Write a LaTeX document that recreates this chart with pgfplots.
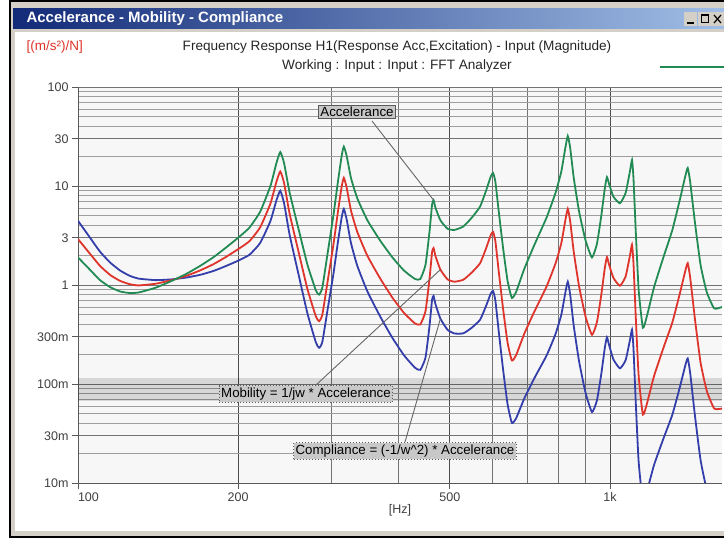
\documentclass[border=0pt]{standalone}
\usepackage{pgfplots}
\pgfplotsset{compat=1.18}
\usepackage{pgfplotstable}
\usepackage{fontspec}
\setmainfont{Liberation Sans}

\definecolor{accgreen}{RGB}{34,139,84}
\definecolor{mobred}{RGB}{222,52,44}
\definecolor{compblue}{RGB}{52,62,170}
\definecolor{winframe}{RGB}{212,208,200}
\definecolor{titleL}{RGB}{18,42,120}
\definecolor{titleR}{RGB}{160,190,230}
\definecolor{boxgray}{RGB}{200,200,200}

% f [Hz], accelerance, mobility, compliance
\pgfplotstableread{
f     acc   mob     comp
100   1.9   2.91    4.45
105   1.45  2.11    3.08
110   1.12  1.56    2.17
115   0.95  1.26    1.68
120   0.86  1.10    1.40
125   0.83  1.02    1.24
130   0.84  0.99    1.16
140   0.94  1.03    1.12
150   1.1   1.12    1.14
160   1.3   1.24    1.19
170   1.57  1.41    1.27
180   1.92  1.63    1.39
190   2.4   1.93    1.56
200   3.0   2.30    1.76
210   3.8   2.77    2.02
220   5.5   3.83    2.66
230   10    6.65    4.43
236   17    11.0    7.15
240   22    14.0    8.94
244   17    10.7    6.68
250   8.5   5.20    3.18
260   3.6   2.12    1.25
270   1.6   0.907   0.514
280   0.88  0.481   0.263
284   0.8   0.431   0.232
288   0.95  0.505   0.268
295   2.2   1.14    0.592
302   5     2.53    1.28
308   11    5.46    2.71
313   20    9.78    4.78
316   25    12.1    5.86
320   20    9.56    4.57
326   12    5.63    2.64
335   7.5   3.43    1.56
350   4.5   1.97    0.860
370   2.8   1.16    0.479
390   1.9   0.745   0.292
410   1.4   0.522   0.195
430   1.15  0.409   0.146
440   1.15  0.400   0.139
450   1.6   0.544   0.185
458   3.5   1.17    0.391
463   6.5   2.15    0.710
466   7.2   2.36    0.776
470   6.0   1.95    0.636
480   4.5   1.43    0.457
495   3.7   1.14    0.353
510   3.6   1.08    0.324
530   3.9   1.13    0.325
550   4.8   1.34    0.371
570   6.2   1.66    0.446
585   9     2.35    0.616
597   12.5  3.20    0.821
603   13.5  3.43    0.869
609   11    2.76    0.694
618   5.5   1.36    0.337
630   2.3   0.559   0.136
642   1.1   0.262   0.0625
654   0.74  0.173   0.0405
666   0.85  0.195   0.0449
690   1.45  0.321   0.0713
720   2.5   0.531   0.113
760   4.8   0.966   0.194
790   8.5   1.65    0.319
810   14    2.64    0.500
824   24    4.46    0.828
833   32    5.88    1.08
842   24    4.36    0.792
855   12    2.15    0.384
875   5.5   0.962   0.168
900   2.8   0.476   0.0809
925   1.9   0.314   0.0520
945   2.6   0.421   0.0682
963   5     0.795   0.126
978   9.5   1.49    0.233
987   12.3  1.91    0.296
996   10.5  1.61    0.248
1015  7.8   1.18    0.177
1044  6.7   0.982   0.144
1070  8.5   1.22    0.174
1090  14    1.97    0.276
1100  18.3  2.55    0.354
1107  12    1.66    0.229
1118  3.5   0.479   0.0655
1132  0.9   0.122   0.0165
1153  0.37  0.0491  0.00651
1175  0.5   0.0651  0.00848
1210  0.95  0.120   0.0152
1260  1.9   0.231   0.0280
1310  3.6   0.420   0.0491
1355  7.5   0.847   0.0956
1385  12.5  1.38    0.153
1400  15.2  1.66    0.181
1415  11    1.19    0.129
1445  4.2   0.445   0.0471
1480  1.6   0.165   0.0171
1520  0.85  0.0856  0.00861
1570  0.58  0.0565  0.00551
1624  0.6   0.0565  0.00533
}\frf

\begin{document}
\begin{tikzpicture}[x=1pt,y=1pt]
\useasboundingbox (0,0) rectangle (724,538);
% window chrome
\fill[white] (0,0) rectangle (724,538);
\fill[winframe] (11,2) rectangle (724,536);
\shade[left color=titleL, right color=titleR] (13,509) rectangle (724,529);
\fill[white] (15,7) rectangle (724,506);
\draw[black, line width=2] (10,1) rectangle (740,537);
\node[anchor=west, white, font=\fontsize{15}{17}\selectfont\bfseries] at (23,519) {Accelerance - Mobility - Compliance};
% title bar buttons
\foreach \bx in {684,698,711}{\fill[winframe] (\bx,512) rectangle ++(13,14);}
\draw[black, line width=1.6] (687,515) -- (694,515);
\draw[black, line width=1] (701,515) rectangle (708,523);
\draw[black, line width=1.6] (701,522.5) -- (708,522.5);
\draw[black, line width=1.2] (714,515) -- (721,523) (714,523) -- (721,515);
% header
\node[anchor=west, mobred, font=\fontsize{13.5}{15}\selectfont] at (23,491) {[(m/s²)/N]};
\node[font=\fontsize{13.6}{15}\selectfont, black!85] at (397,491) {Frequency Response H1(Response Acc,Excitation) - Input (Magnitude)};
\node[font=\fontsize{13.6}{15}\selectfont, black!85] at (397,472) {Working : Input : Input : FFT Analyzer};
\draw[accgreen, line width=2] (660,471) -- (724,471);

\begin{axis}[
    at={(78pt,55pt)}, anchor=south west,
    scale only axis, width=644pt, height=396pt,
    xmode=log, ymode=log,
    xmin=100, xmax=1624, ymin=0.01, ymax=100,
    axis x line=bottom, axis y line=left,
    axis line style={-, black!65, line width=0.9pt},
    axis background/.style={fill=black!3},
    xtick={100,200,500,1000},
    xticklabels={\hphantom{100}100,200,500,1k},
    minor xtick={300,400,600,700,800,900},
    ytick={0.01,0.03,0.1,0.3,1,3,10,30,100},
    yticklabels={10m,30m,100m,300m,1,3,10,30,100},
    minor ytick={0.02,0.04,0.05,0.06,0.07,0.08,0.09,0.2,0.4,0.5,0.6,0.7,0.8,0.9,2,4,5,6,7,8,9,20,40,50,60,70,80,90},
    tick align=outside, major tick length=6pt, minor tick length=0pt,
    tick style={black!65, line width=0.8pt},
    grid=both,
    major x grid style={black!70, line width=0.8pt},
    minor x grid style={black!55, line width=0.7pt},
    major y grid style={black!55, line width=0.8pt},
    minor y grid style={black!38, line width=0.7pt},
    ticklabel style={font=\fontsize{12.5}{14}\selectfont, black!75},
    xlabel={[Hz]}, xlabel style={font=\fontsize{12.5}{14}\selectfont, black!75, yshift=4pt},
    clip=true,
]
\fill[black, fill opacity=0.13] (axis cs:100,0.068) rectangle (axis cs:1624,0.115);
\addplot[compblue, line width=1.8pt, smooth, tension=0.3] table[x=f, y=comp] {\frf};
\addplot[mobred, line width=1.8pt, smooth, tension=0.3] table[x=f, y=mob] {\frf};
\addplot[accgreen, line width=1.8pt, smooth, tension=0.3] table[x=f, y=acc] {\frf};
\coordinate (pA) at (axis cs:466,7.2);
\coordinate (pM) at (axis cs:480,1.43);
\coordinate (pC) at (axis cs:480,0.457);
\end{axis}

% annotations
\draw[black!60, line width=0.9] (372,417) -- (pA);
\draw[black!60, line width=0.9] (316,153) -- (pM);
\draw[black!60, line width=0.9] (405,96) -- (pC);
\node[draw=black!65, line width=1, fill=boxgray, inner sep=2pt, font=\fontsize{13.3}{15}\selectfont] at (357,426) {Accelerance};
\node[draw=black!65, dotted, line width=1, fill=boxgray, inner sep=2pt, font=\fontsize{13.3}{15}\selectfont] at (306,144) {Mobility = 1/jw * Accelerance};
\node[draw=black!65, dotted, line width=1, fill=boxgray, inner sep=2pt, font=\fontsize{13.3}{15}\selectfont] at (405,87) {Compliance = (-1/w\textasciicircum 2) * Accelerance};
\end{tikzpicture}
\end{document}
